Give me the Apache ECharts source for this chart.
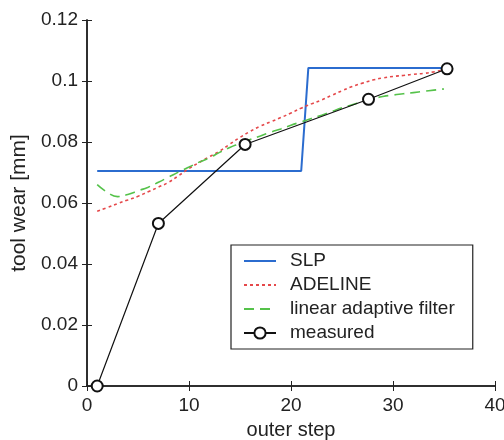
<!DOCTYPE html>
<html><head><meta charset="utf-8">
<script src="https://cdn.jsdelivr.net/npm/echarts@6/dist/echarts.min.js"></script>
<style>html,body{margin:0;padding:0;background:#fff}#c{width:504px;height:440px}</style>
</head><body><div id="c"></div>
<script>
// outer steps for the continuous estimates
const steps = [1,2,3,4,5,6,7,8,9,10,11,12,13,14,15,16,17,18,19,20,21,22,23,24,25,26,27,28,29,30,31,32,33,34,35];
const adeline = [0.0573,0.0585,0.0598,0.0610,0.0622,0.0637,0.0652,0.0668,0.0690,0.0713,0.0733,0.0752,0.0770,0.0793,0.0815,0.0835,0.0852,0.0866,0.0880,0.0895,0.0911,0.0925,0.0938,0.0953,0.0968,0.0982,0.0993,0.1003,0.1010,0.1015,0.1018,0.1022,0.1025,0.1030,0.1037];
const laf = [0.0660,0.0635,0.0621,0.0628,0.0640,0.0652,0.0668,0.0685,0.0702,0.0718,0.0734,0.0748,0.0766,0.0782,0.0795,0.0808,0.0820,0.0832,0.0843,0.0855,0.0866,0.0877,0.0888,0.0900,0.0912,0.0922,0.0933,0.0942,0.0949,0.0954,0.0958,0.0962,0.0966,0.0970,0.0974];
const slpX = [1, 21, 21.7, 35.3];
const slpY = [0.0705, 0.0705, 0.1043, 0.1043];
const measX = [1, 7, 15.5, 27.6, 35.3];
const measY = [0, 0.0533, 0.0792, 0.0940, 0.1040];
const xTicks = [0,10,20,30,40];
const yTicks = [0,0.02,0.04,0.06,0.08,0.1,0.12];

const zip = (xs, ys) => xs.map((x,i)=>[x, ys[i]]);
const FONT = 'Liberation Sans, Arial, sans-serif';
const txt = {color:'#222', fontFamily:FONT, fontSize:19};
const chart = echarts.init(document.getElementById('c'), null, {renderer:'canvas'});
const axLine = {show:true, lineStyle:{color:'#222', width:1.5}};
const tick = {show:true, inside:true, length:5, lineStyle:{color:'#222', width:1}};
const noSym = {opacity:0};
chart.setOption({
  animation:false,
  backgroundColor:'#fff',
  grid:{left:87, right:9, top:20, bottom:54, containLabel:false, outerBoundsMode:'none'},
  xAxis:[
    {type:'value', min:xTicks[0], max:xTicks[xTicks.length-1], interval:10,
     name:'outer step', nameLocation:'middle', nameGap:34,
     nameTextStyle:Object.assign({}, txt, {fontSize:20}),
     axisLine:axLine, axisTick:tick, axisLabel:Object.assign({margin:10}, txt), splitLine:{show:false}},
    {type:'value', position:'top', min:0, max:40, interval:10,
     axisLine:axLine, axisTick:tick, axisLabel:{show:false}, splitLine:{show:false}}
  ],
  yAxis:[
    {type:'value', min:yTicks[0], max:yTicks[yTicks.length-1], interval:0.02,
     name:'tool wear [mm]', nameLocation:'middle', nameGap:55,
     nameTextStyle:Object.assign({}, txt, {fontSize:21}),
     axisLine:axLine, axisTick:tick,
     axisLabel:Object.assign({margin:9, formatter:v=>String(+v.toFixed(2))}, txt), splitLine:{show:false}},
    {type:'value', position:'right', min:0, max:0.12, interval:0.02,
     axisLine:axLine, axisTick:tick, axisLabel:{show:false}, splitLine:{show:false}}
  ],
  legend:{
    orient:'vertical', left:231, top:245, itemWidth:32, itemHeight:14, itemGap:4,
    padding:[6,18,6,12], borderColor:'#222', borderWidth:1.2, backgroundColor:'#fff',
    textStyle:Object.assign({lineHeight:20, padding:[0,0,0,9]}, txt),
    data:[
      {name:'SLP', itemStyle:noSym},
      {name:'ADELINE', itemStyle:noSym},
      {name:'linear adaptive filter', itemStyle:noSym},
      {name:'measured'}
    ]
  },
  series:[
    {name:'SLP', type:'line', data:zip(slpX, slpY), symbol:'none',
     lineStyle:{color:'#2b6ccf', width:2}, itemStyle:{color:'#2b6ccf'}},
    {name:'ADELINE', type:'line', data:zip(steps, adeline), symbol:'none', smooth:true,
     lineStyle:{color:'#e5484a', width:1.6, type:[3,3]}, itemStyle:{color:'#e5484a'}},
    {name:'linear adaptive filter', type:'line', data:zip(steps, laf), symbol:'none', smooth:true,
     lineStyle:{color:'#55c24a', width:1.6, type:[10,6]}, itemStyle:{color:'#55c24a'}},
    {name:'measured', type:'line', data:zip(measX, measY), symbol:'emptyCircle', symbolSize:11,
     lineStyle:{color:'#111', width:1.2}, itemStyle:{color:'#111', borderWidth:1.2}}
  ]
});
</script></body></html>
